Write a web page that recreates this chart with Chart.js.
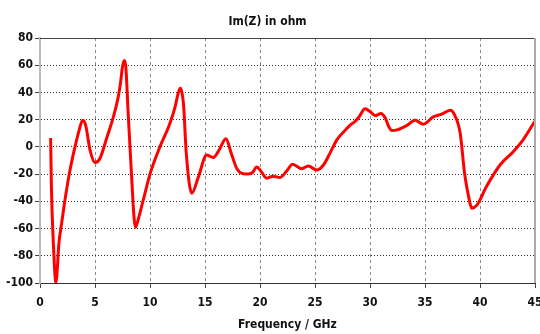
<!DOCTYPE html>
<html>
<head>
<meta charset="utf-8">
<script src="https://cdn.jsdelivr.net/npm/chart.js@4"></script>
<style>
  html, body { margin: 0; padding: 0; background: #fff; }
  #wrap { width: 540px; height: 334px; }
</style>
</head>
<body>
<div id="wrap"><canvas id="c"></canvas></div>
<script>
// values
const freq = [0.97, 1.03, 1.21, 1.45, 1.73, 1.97, 2.27, 2.73, 3.18, 3.55, 3.88, 4.15, 4.55, 5.0, 5.45,
    6.06, 6.67, 7.12, 7.32, 7.5, 7.67, 7.8, 8.02, 8.33, 8.55, 8.68, 8.94, 9.39, 10.0, 10.9, 11.8, 12.3, 12.55, 12.75,
    12.9, 13.05, 13.3, 13.8, 14.4, 15.15, 15.75, 16.3, 16.9, 17.4, 17.9, 18.8, 19.3, 19.7, 20.1, 20.6,
    21.2, 21.8, 22.4, 22.97, 23.8, 24.4, 25.15, 25.75, 26.4, 26.97, 27.6, 28.2, 28.6, 29.0, 29.55,
    30.0, 30.45, 31.0, 31.4, 31.7, 32.0, 32.45, 33.4, 34.1, 34.85, 35.75, 36.5, 37.3, 37.7, 38.2,
    38.6, 39.0, 39.25, 39.7, 40.6, 41.8, 43.0, 43.9, 45.0]
const imZ = [6.5, -27, -70, -99.5, -70, -56, -39, -17, 0, 12, 19.6, 16, -2.4, -11.5, -8.5,
    6.4, 22, 37, 47, 59, 63.5, 59, 24, -22, -52, -59, -53, -39, -20, 0, 17, 30, 39, 43,
    40, 31, -5, -34, -22, -6, -7.8, -2, 6, -5, -16, -20, -19, -14.7, -18, -23,
    -21.5, -22.5, -18, -12.7, -16, -14, -17, -13.5, -4, 5, 11, 16, 18.4, 22, 28,
    26, 23, 24.5, 21, 15, 12, 12.5, 16, 19.6, 16.7, 22, 24, 27, 23.3, 10,
    -19.6, -38, -45, -43, -29, -13.5, -3.7, 5, 19]

const xTicks = [0, 5, 10, 15, 20, 25, 30, 35, 40, 45]
const yTicks = [-100, -80, -60, -40, -20, 0, 20, 40, 60, 80]

const fam = '"DejaVu Sans Condensed", "DejaVu Sans", sans-serif'
const tickFont = { family: fam, size: 12, weight: 'bold' }

// solid frame on top and right like the original plot box
const framePlugin = {
    id: 'frame',
    afterDraw(chart) {
        const { ctx, chartArea: a } = chart
        ctx.save()
        ctx.lineWidth = 1
        ctx.strokeStyle = '#444'
        ctx.beginPath()
        ctx.moveTo(a.left, a.top + 0.5)
        ctx.lineTo(a.right, a.top + 0.5)
        ctx.stroke()
        ctx.strokeStyle = '#aaa'
        ctx.lineWidth = 2
        ctx.beginPath()
        ctx.moveTo(a.right, a.top)
        ctx.lineTo(a.right, a.bottom)
        ctx.stroke()
        ctx.restore()
    }
}

new Chart(document.getElementById('c'), {
    type: 'line',
    data: {
        datasets: [{
            data: freq.map((f, i) => ({ x: f, y: imZ[i] })),
            borderColor: '#ff0000',
            borderWidth: 3,
            pointRadius: 0,
            cubicInterpolationMode: 'monotone',
            fill: false
        }]
    },
    options: {
        responsive: true,
        maintainAspectRatio: false,
        animation: false,
        layout: { padding: { left: 0, right: 5, top: 0, bottom: 0 } },
        plugins: {
            legend: { display: false },
            tooltip: { enabled: false },
            title: {
                display: true,
                text: 'Im(Z) in ohm',
                color: '#111',
                font: { family: fam, size: 12, weight: 'bold' },
                padding: { top: 15, bottom: 8.6 }
            }
        },
        scales: {
            x: {
                type: 'linear',
                min: 0,
                max: 45,
                afterBuildTicks: s => { s.ticks = xTicks.map(v => ({ value: v })) },
                afterFit: s => { s.height = 51; s.paddingLeft = 0; s.paddingRight = 0 },
                ticks: { color: '#111', font: tickFont, padding: 8, maxRotation: 0, autoSkip: false },
                grid: {
                    color: '#8a8a8a',
                    lineWidth: 1,
                    tickColor: '#444',
                    tickLength: 5,
                    tickBorderDash: []
                },
                border: { display: true, color: '#333', width: 1, dash: [3, 3] },
                title: {
                    display: true,
                    text: 'Frequency / GHz',
                    color: '#111',
                    font: { family: fam, size: 12, weight: 'bold' },
                    padding: { top: 2, bottom: 2 }
                }
            },
            y: {
                min: -100,
                max: 80,
                afterBuildTicks: s => { s.ticks = yTicks.map(v => ({ value: v })) },
                afterFit: s => { s.width = 40 },
                ticks: { color: '#111', font: tickFont, padding: 2, autoSkip: false },
                grid: {
                    color: '#333',
                    lineWidth: 1,
                    tickColor: '#444',
                    tickLength: 5,
                    tickBorderDash: []
                },
                border: { display: true, color: '#bbb', width: 2, dash: [1, 2] }
            }
        }
    },
    plugins: [framePlugin]
})
</script>
</body>
</html>
